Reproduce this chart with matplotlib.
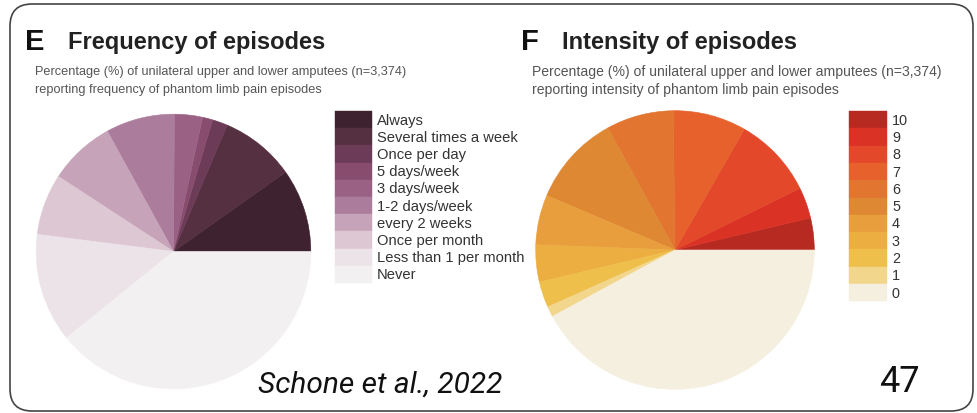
import matplotlib
matplotlib.use("Agg")
import matplotlib.pyplot as plt
from matplotlib.patches import FancyBboxPatch, Rectangle

W, H = 977, 414

# ---- data ---------------------------------------------------------------
freq_labels = ["Always", "Several times a week", "Once per day", "5 days/week",
               "3 days/week", "1-2 days/week", "every 2 weeks", "Once per month",
               "Less than 1 per month", "Never"]
freq_values = [9.8, 8.8, 1.8, 1.2, 3.3, 8.1, 7.8, 7.2, 12.8, 39.2]
freq_colors = ["#3f2230", "#553041", "#6c3b57", "#874c6e", "#9b6184",
               "#ab7c9b", "#c7a3b9", "#dcc7d3", "#ebe3e8", "#f3f0f2"]

int_labels = ["10", "9", "8", "7", "6", "5", "4", "3", "2", "1", "0"]
int_values = [3.7, 3.6, 9.4, 8.5, 7.8, 10.6, 5.8, 4.3, 3.0, 1.2, 42.1]
int_colors = ["#b72a21", "#da3224", "#e3482a", "#e7612d", "#e2752f", "#df8834",
              "#e89e3c", "#ecad41", "#efbf4c", "#f2d68b", "#f5efdf"]

plt.rcParams["font.family"] = ["Liberation Sans", "DejaVu Sans"]

fig = plt.figure(figsize=(W / 100, H / 100), dpi=100)
fig.patch.set_facecolor("white")

# overlay axis in pixel units (y downward) for frame, titles and legends
ov = fig.add_axes([0, 0, 1, 1])
ov.set_xlim(0, W)
ov.set_ylim(H, 0)
ov.axis("off")

frame = FancyBboxPatch((10, 5), 963, 407, boxstyle="round,pad=0,rounding_size=22",
                       fill=False, edgecolor="#444444", linewidth=1.2, zorder=1)
ov.add_patch(frame)


def pie_axes(cx, cy, r):
    ax = fig.add_axes([(cx - r) / W, 1 - (cy + r) / H, 2 * r / W, 2 * r / H])
    return ax


def draw_pie(ax, values, colors):
    wedges, _ = ax.pie(values, colors=colors, startangle=0, counterclock=True,
                       radius=1, wedgeprops=dict(linewidth=0.4))
    for w in wedges:
        w.set_edgecolor(w.get_facecolor())
    ax.set_xlim(-1.005, 1.005)
    ax.set_ylim(-1.005, 1.005)
    ax.set_aspect("equal")
    ax.axis("off")


def draw_legend(x0, y0, w, h, labels, colors, fs):
    for i, (lab, col) in enumerate(zip(labels, colors)):
        ov.add_patch(Rectangle((x0, y0 + i * h), w, h, facecolor=col,
                               edgecolor=col, linewidth=0.3))
        ov.text(x0 + w + 5, y0 + (i + 0.5) * h, lab, fontsize=fs,
                color="#333333", va="center", ha="left")


# ---- panel E --------------------------------------------------------------
axE = pie_axes(173.5, 252.5, 138)
draw_pie(axE, freq_values, freq_colors)
ov.text(25, 50, "E", fontsize=21, fontweight="bold", va="baseline", ha="left", color="#111111")
ov.text(68, 48.5, "Frequency of episodes", fontsize=17, fontweight="bold",
        va="baseline", ha="left", color="#222222")
ov.text(35, 72, "Percentage (%) of unilateral upper and lower amputees (n=3,374)",
        fontsize=9.2, color="#555555", va="center", ha="left")
ov.text(35, 90, "reporting frequency of phantom limb pain episodes",
        fontsize=9.2, color="#555555", va="center", ha="left")
draw_legend(335, 112, 37, 17.2, freq_labels, freq_colors, 10.6)

# ---- panel F --------------------------------------------------------------
axF = pie_axes(675, 251, 140)
draw_pie(axF, int_values, int_colors)
ov.text(521, 50, "F", fontsize=21, fontweight="bold", va="baseline", ha="left", color="#111111")
ov.text(562, 48.5, "Intensity of episodes", fontsize=17, fontweight="bold",
        va="baseline", ha="left", color="#222222")
ov.text(532, 72, "Percentage (%) of unilateral upper and lower amputees (n=3,374)",
        fontsize=10.1, color="#555555", va="center", ha="left")
ov.text(532, 90, "reporting intensity of phantom limb pain episodes",
        fontsize=10.1, color="#555555", va="center", ha="left")
draw_legend(849, 112, 38, 17.3, int_labels, int_colors, 10.4)

# ---- footer ---------------------------------------------------------------
ov.text(258, 393, "Schone et al., 2022", fontsize=21.5, fontstyle="italic",
        family=["Roboto", "DejaVu Sans"], va="baseline", ha="left", color="#111111")
ov.text(879, 392, "47", fontsize=26, family=["Roboto", "DejaVu Sans"],
        va="baseline", ha="left", color="#111111")

fig.savefig("out.png", dpi=100, facecolor="white")
